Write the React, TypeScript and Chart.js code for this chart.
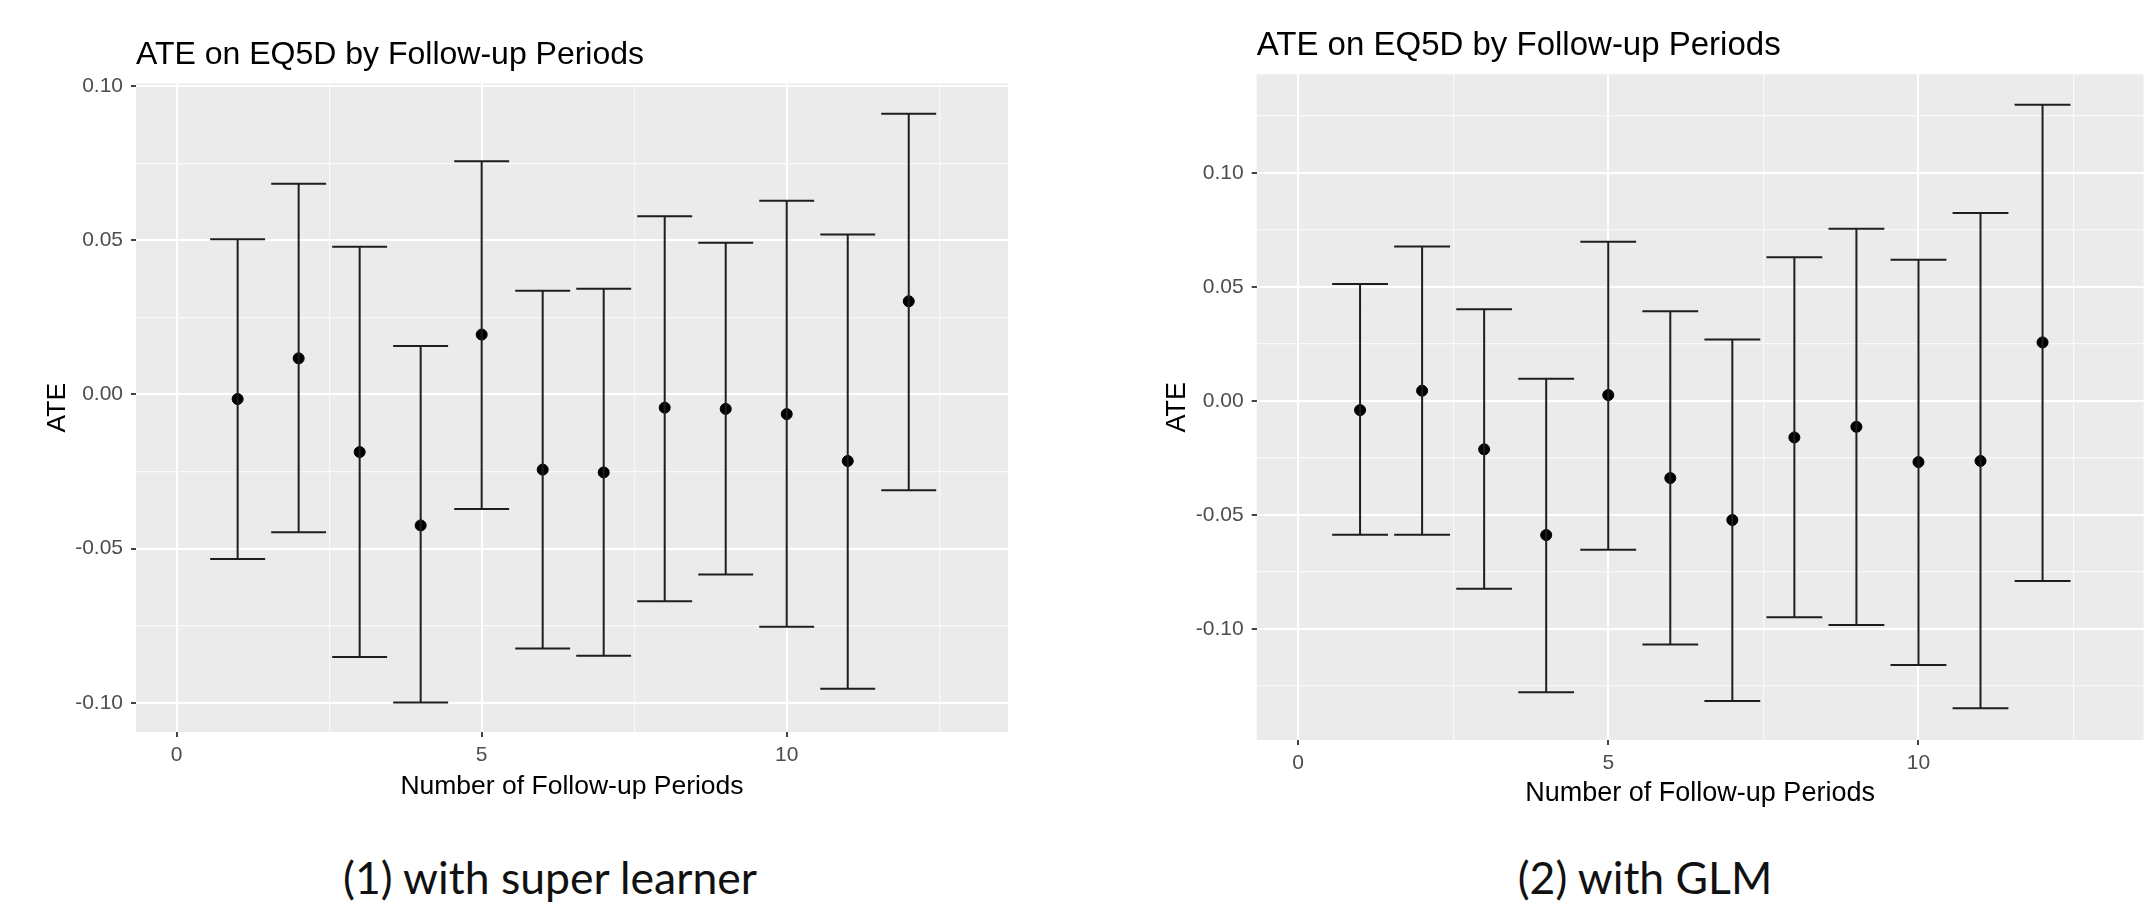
import React, { useEffect, useRef } from "react";
import { Chart, registerables } from "chart.js";
Chart.register(...registerables);

// ---------- data ----------
const periods = [1, 2, 3, 4, 5, 6, 7, 8, 9, 10, 11, 12];

// (1) with super learner
const slEstimate = [-0.0015, 0.0117, -0.0187, -0.0425, 0.0194, -0.0244, -0.0253, -0.0043, -0.0047, -0.0064, -0.0216, 0.0302];
const slLower = [-0.0534, -0.0447, -0.0852, -0.0999, -0.0372, -0.0824, -0.0848, -0.0671, -0.0584, -0.0754, -0.0955, -0.0311];
const slUpper = [0.0503, 0.0683, 0.0479, 0.0157, 0.0756, 0.0336, 0.0343, 0.0578, 0.0492, 0.0628, 0.0519, 0.0910];

// (2) with GLM
const glmEstimate = [-0.0041, 0.0044, -0.0213, -0.0589, 0.0025, -0.0339, -0.0523, -0.0161, -0.0114, -0.0269, -0.0264, 0.0256];
const glmLower = [-0.0588, -0.0588, -0.0825, -0.1279, -0.0653, -0.1069, -0.1317, -0.0950, -0.0984, -0.1159, -0.1349, -0.0791];
const glmUpper = [0.0512, 0.0677, 0.0401, 0.0097, 0.0697, 0.0393, 0.0269, 0.0630, 0.0754, 0.0619, 0.0824, 0.1298];

// ticks
const xMajorTicks = [0, 5, 10];
const xMinorTicks = [2.5, 7.5, 12.5];
const yMajorTicks = [-0.1, -0.05, 0, 0.05, 0.1];
const yMinorTicksSL = [-0.075, -0.025, 0.025, 0.075];
const yMinorTicksGLM = [-0.125, -0.075, -0.025, 0.025, 0.075, 0.125];

const chartTitle = "ATE on EQ5D by Follow-up Periods";
const xTitle = "Number of Follow-up Periods";
const yTitle = "ATE";
const captions = ["(1) with super learner", "(2) with GLM"];

// ---------- helpers ----------
const FONT = "'Liberation Sans', Arial, sans-serif";
const ERR_HALF = 0.45;

const isIn = (v: number, arr: number[]) => arr.some((m) => Math.abs(m - v) < 1e-9);

function errorPath(xs: number[], lo: number[], hi: number[]) {
  const pts: { x: number; y: number | null }[] = [];
  xs.forEach((x, i) => {
    pts.push({ x: x - ERR_HALF, y: hi[i] }, { x: x + ERR_HALF, y: hi[i] }, { x, y: null });
    pts.push({ x, y: hi[i] }, { x, y: lo[i] }, { x, y: null });
    pts.push({ x: x - ERR_HALF, y: lo[i] }, { x: x + ERR_HALF, y: lo[i] }, { x, y: null });
  });
  return pts;
}

const panelBg = {
  id: "panelBg",
  beforeDraw(chart: any) {
    const { ctx, chartArea } = chart;
    if (!chartArea) return;
    ctx.save();
    ctx.fillStyle = "#EBEBEB";
    ctx.fillRect(chartArea.left, chartArea.top, chartArea.right - chartArea.left, chartArea.bottom - chartArea.top);
    ctx.restore();
  },
};

interface PanelProps {
  left: number;
  top: number;
  width: number;
  height: number;
  est: number[];
  lo: number[];
  hi: number[];
  yMin: number;
  yMax: number;
  yMinor: number[];
  yAxisWidth: number;
  xAxisHeight: number;
  padRight: number;
  titleSize: number;
  axisTitleSize: number;
  titlePadTop: number;
  titlePadBottom: number;
  yTitlePad: number;
  xTitlePad: number;
}

function Panel(p: PanelProps) {
  const ref = useRef<HTMLCanvasElement | null>(null);
  useEffect(() => {
    if (!ref.current) return;
    const xAll = [...xMajorTicks, ...xMinorTicks].sort((a, b) => a - b);
    const yAll = [...yMajorTicks, ...p.yMinor].sort((a, b) => a - b);
    const gridOpts = (majors: number[]) => ({
      color: (c: any) => (c.tick && isIn(c.tick.value, majors) ? "#FFFFFF" : "#F9F9F9"),
      lineWidth: (c: any) => (c.tick && isIn(c.tick.value, majors) ? 2 : 1.2),
      tickColor: (c: any) => (c.tick && isIn(c.tick.value, majors) ? "#444444" : "rgba(0,0,0,0)"),
      tickWidth: 2,
      tickLength: 5,
      drawTicks: true,
    });
    const chart = new Chart(ref.current, {
      type: "scatter",
      data: {
        datasets: [
          {
            label: "CI",
            data: errorPath(periods, p.lo, p.hi) as any,
            showLine: true,
            spanGaps: false,
            pointRadius: 0,
            pointHoverRadius: 0,
            borderColor: "#1E1E1E",
            borderWidth: 2,
            borderCapStyle: "butt",
          } as any,
          {
            label: "ATE",
            data: periods.map((x, i) => ({ x, y: p.est[i] })),
            pointRadius: 5.5,
            pointBorderWidth: 1,
            pointBackgroundColor: "#000000",
            pointBorderColor: "#000000",
          },
        ],
      },
      options: {
        animation: false,
        responsive: false,
        devicePixelRatio: 1,
        events: [],
        layout: { padding: { left: 0, top: 0, right: p.padRight, bottom: 0 } },
        plugins: {
          legend: { display: false },
          tooltip: { enabled: false },
          title: {
            display: true,
            text: chartTitle,
            align: "start",
            fullSize: false,
            color: "#000000",
            font: { family: FONT, size: p.titleSize, weight: "normal", lineHeight: 1.2 },
            padding: { top: p.titlePadTop, bottom: p.titlePadBottom },
          },
        },
        scales: {
          x: {
            type: "linear",
            min: -0.666,
            max: 13.627,
            border: { display: false },
            grid: gridOpts(xMajorTicks) as any,
            afterBuildTicks: (s: any) => {
              s.ticks = xAll.map((v) => ({ value: v }));
            },
            afterFit: (s: any) => {
              s.height = p.xAxisHeight;
            },
            ticks: {
              autoSkip: false,
              maxRotation: 0,
              padding: 6,
              color: "#4D4D4D",
              font: { family: FONT, size: 21 },
              callback: (v: any) => (isIn(Number(v), xMajorTicks) ? String(v) : ""),
            },
            title: {
              display: true,
              text: xTitle,
              color: "#000000",
              font: { family: FONT, size: p.axisTitleSize, lineHeight: 1.2 },
              padding: { top: 0, bottom: p.xTitlePad },
            },
          },
          y: {
            type: "linear",
            min: p.yMin,
            max: p.yMax,
            border: { display: false },
            grid: gridOpts(yMajorTicks) as any,
            afterBuildTicks: (s: any) => {
              s.ticks = yAll.map((v) => ({ value: v }));
            },
            afterFit: (s: any) => {
              s.width = p.yAxisWidth;
            },
            ticks: {
              autoSkip: false,
              padding: 8,
              color: "#4D4D4D",
              font: { family: FONT, size: 21 },
              callback: (v: any) => (isIn(Number(v), yMajorTicks) ? Number(v).toFixed(2) : ""),
            },
            title: {
              display: true,
              text: yTitle,
              color: "#000000",
              font: { family: FONT, size: p.axisTitleSize, lineHeight: 1.2 },
              padding: { top: p.yTitlePad, bottom: 0 },
            },
          },
        },
      },
      plugins: [panelBg],
    } as any);
    return () => chart.destroy();
  }, []);
  return (
    <canvas
      ref={ref}
      width={p.width}
      height={p.height}
      style={{ position: "absolute", left: p.left, top: p.top, width: p.width, height: p.height }}
    />
  );
}

export default function App() {
  const capStyle: React.CSSProperties = {
    position: "absolute",
    top: 855,
    fontFamily: "Lato, 'Open Sans', sans-serif",
    fontSize: 44.5,
    lineHeight: "44px",
    color: "#111111",
    whiteSpace: "nowrap",
    transform: "translateX(-50%)",
  };
  return (
    <div style={{ position: "fixed", left: 0, top: 0, width: 2150, height: 906, background: "#FFFFFF", overflow: "hidden" }}>
      <Panel
        left={0}
        top={0}
        width={1080}
        height={830}
        est={slEstimate}
        lo={slLower}
        hi={slUpper}
        yMin={-0.1095}
        yMax={0.1009}
        yMinor={yMinorTicksSL}
        yAxisWidth={136}
        xAxisHeight={98}
        padRight={72}
        titleSize={32}
        axisTitleSize={26.5}
        titlePadTop={36.2}
        titlePadBottom={8.7}
        yTitlePad={42}
        xTitlePad={27.4}
      />
      <Panel
        left={1100}
        top={0}
        width={1050}
        height={830}
        est={glmEstimate}
        lo={glmLower}
        hi={glmUpper}
        yMin={-0.1488}
        yMax={0.1432}
        yMinor={yMinorTicksGLM}
        yAxisWidth={156.7}
        xAxisHeight={90}
        padRight={0}
        titleSize={33}
        axisTitleSize={27}
        titlePadTop={26.5}
        titlePadBottom={8.2}
        yTitlePad={61}
        xTitlePad={20.4}
      />
      <div style={{ ...capStyle, left: 550 }}>{captions[0]}</div>
      <div style={{ ...capStyle, left: 1645 }}>{captions[1]}</div>
    </div>
  );
}
